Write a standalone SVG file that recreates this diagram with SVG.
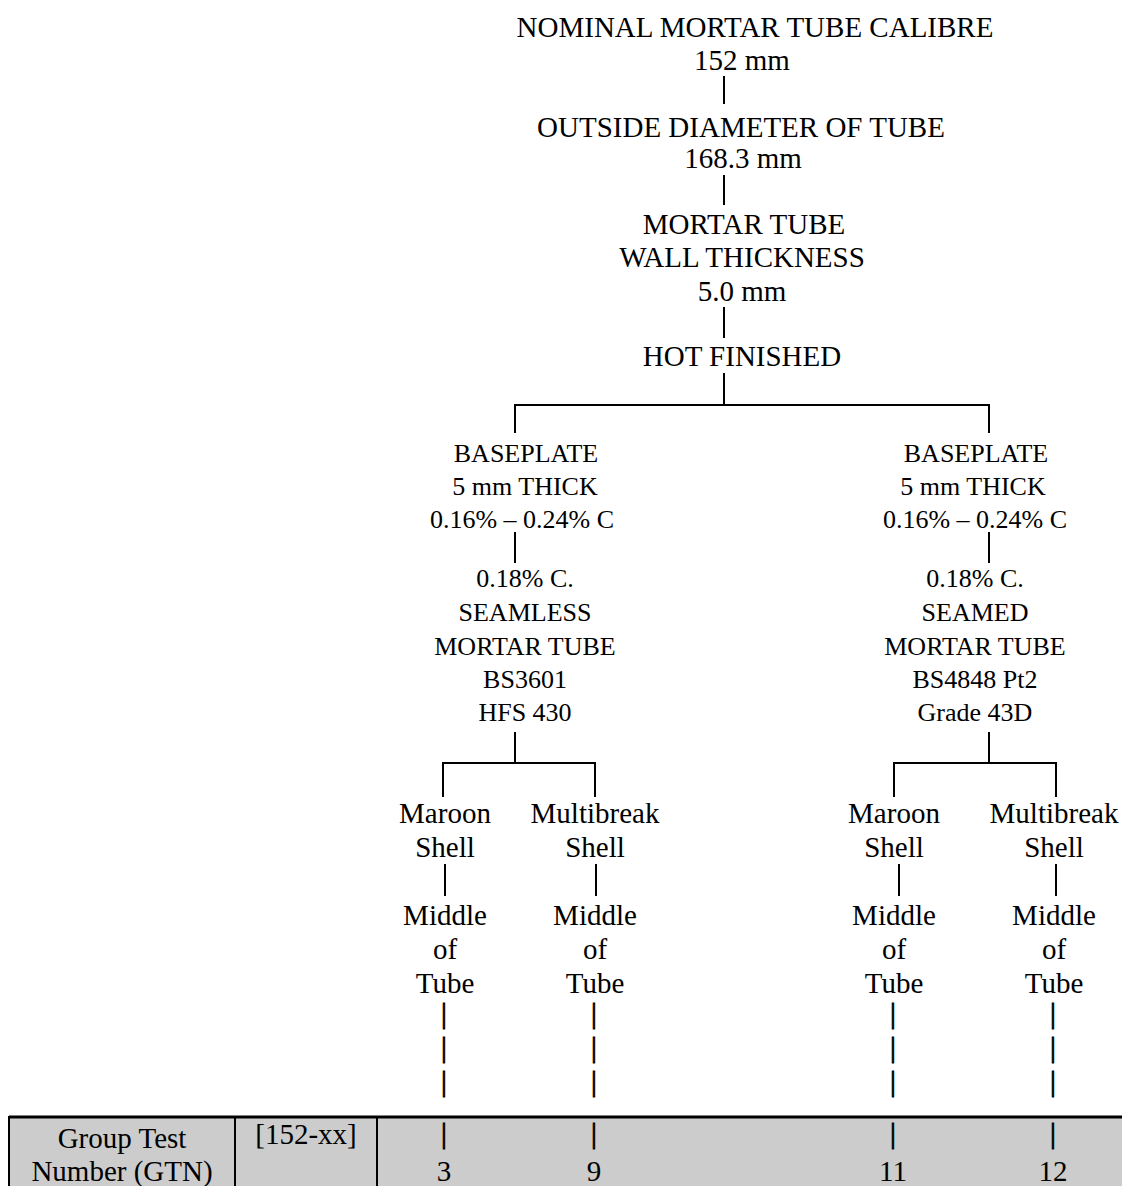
<svg xmlns="http://www.w3.org/2000/svg" width="1122" height="1186" viewBox="0 0 1122 1186">
<style>
text{font-family:"Liberation Serif","Times New Roman",serif;fill:#000;text-anchor:middle}
.a{font-size:29px}
.b{font-size:26px}
.p{stroke:#000;stroke-width:0.9}
.c line{stroke:#000;stroke-width:2;fill:none}
</style>
<rect x="0" y="0" width="1122" height="1186" fill="#fff"/>
<g id="table">
<rect x="9" y="1117" width="1113" height="69" fill="#cccccc"/>
<line x1="9" y1="1117" x2="1122" y2="1117" stroke="#000" stroke-width="3"/>
<line x1="9" y1="1116" x2="9" y2="1186" stroke="#000" stroke-width="2"/>
<line x1="235" y1="1117" x2="235" y2="1186" stroke="#000" stroke-width="2"/>
<line x1="377" y1="1117" x2="377" y2="1186" stroke="#000" stroke-width="2"/>
<text class="a" x="122" y="1148">Group Test</text>
<text class="a" x="122" y="1181">Number (GTN)</text>
<text class="a" x="306" y="1144">[152-xx]</text>
<text class="a p" x="444" y="1143">|</text>
<text class="a p" x="594" y="1143">|</text>
<text class="a p" x="893" y="1143">|</text>
<text class="a p" x="1053" y="1143">|</text>
<text class="a" x="444" y="1181">3</text>
<text class="a" x="594" y="1181">9</text>
<text class="a" x="893" y="1181">11</text>
<text class="a" x="1053" y="1181">12</text>
</g>
<g id="connectors" class="c">
<line x1="724" y1="76" x2="724" y2="104"/>
<line x1="724" y1="175" x2="724" y2="205"/>
<line x1="724" y1="307" x2="724" y2="338"/>
<line x1="724" y1="373" x2="724" y2="405"/>
<line x1="514" y1="405" x2="990" y2="405"/>
<line x1="515" y1="404" x2="515" y2="433"/>
<line x1="989" y1="404" x2="989" y2="433"/>
<line x1="515" y1="532" x2="515" y2="563"/>
<line x1="989" y1="532" x2="989" y2="563"/>
<line x1="515" y1="732" x2="515" y2="763"/>
<line x1="442" y1="763" x2="596" y2="763"/>
<line x1="443" y1="762" x2="443" y2="797"/>
<line x1="595" y1="762" x2="595" y2="797"/>
<line x1="989" y1="732" x2="989" y2="763"/>
<line x1="893" y1="763" x2="1057" y2="763"/>
<line x1="894" y1="762" x2="894" y2="797"/>
<line x1="1056" y1="762" x2="1056" y2="797"/>
<line x1="445" y1="864" x2="445" y2="896"/>
<line x1="596" y1="864" x2="596" y2="896"/>
<line x1="899" y1="864" x2="899" y2="896"/>
<line x1="1056" y1="864" x2="1056" y2="896"/>
</g>
<g id="n-calibre">
<text class="a" x="755" y="37">NOMINAL MORTAR TUBE CALIBRE</text>
<text class="a" x="742" y="70">152 mm</text>
</g>
<g id="n-diameter">
<text class="a" x="741" y="137">OUTSIDE DIAMETER OF TUBE</text>
<text class="a" x="743" y="168">168.3 mm</text>
</g>
<g id="n-wall">
<text class="a" x="744" y="234">MORTAR TUBE</text>
<text class="a" x="742" y="267">WALL THICKNESS</text>
<text class="a" x="742" y="301">5.0 mm</text>
</g>
<g id="n-hot">
<text class="a" x="742" y="366">HOT FINISHED</text>
</g>
<g id="n-base-left" class="b">
<text x="526" y="462">BASEPLATE</text>
<text x="525" y="495">5 mm THICK</text>
<text x="522" y="528">0.16% – 0.24% C</text>
</g>
<g id="n-base-right" class="b">
<text x="976" y="462">BASEPLATE</text>
<text x="973" y="495">5 mm THICK</text>
<text x="975" y="528">0.16% – 0.24% C</text>
</g>
<g id="n-seamless" class="b">
<text x="525" y="587">0.18% C.</text>
<text x="525" y="621">SEAMLESS</text>
<text x="525" y="655">MORTAR TUBE</text>
<text x="525" y="688">BS3601</text>
<text x="525" y="721">HFS 430</text>
</g>
<g id="n-seamed" class="b">
<text x="975" y="587">0.18% C.</text>
<text x="975" y="621">SEAMED</text>
<text x="975" y="655">MORTAR TUBE</text>
<text x="975" y="688">BS4848 Pt2</text>
<text x="975" y="721">Grade 43D</text>
</g>
<g id="n-maroon-left" class="a">
<text x="445" y="823">Maroon</text>
<text x="445" y="857">Shell</text>
</g>
<g id="n-multi-left" class="a">
<text x="595" y="823">Multibreak</text>
<text x="595" y="857">Shell</text>
</g>
<g id="n-maroon-right" class="a">
<text x="894" y="823">Maroon</text>
<text x="894" y="857">Shell</text>
</g>
<g id="n-multi-right" class="a">
<text x="1054" y="823">Multibreak</text>
<text x="1054" y="857">Shell</text>
</g>
<g id="n-middle-1" class="a">
<text x="445" y="925">Middle</text>
<text x="445" y="959">of</text>
<text x="445" y="993">Tube</text>
<text class="p" x="444" y="1023">|</text>
<text class="p" x="444" y="1057">|</text>
<text class="p" x="444" y="1091">|</text>
</g>
<g id="n-middle-2" class="a">
<text x="595" y="925">Middle</text>
<text x="595" y="959">of</text>
<text x="595" y="993">Tube</text>
<text class="p" x="594" y="1023">|</text>
<text class="p" x="594" y="1057">|</text>
<text class="p" x="594" y="1091">|</text>
</g>
<g id="n-middle-3" class="a">
<text x="894" y="925">Middle</text>
<text x="894" y="959">of</text>
<text x="894" y="993">Tube</text>
<text class="p" x="893" y="1023">|</text>
<text class="p" x="893" y="1057">|</text>
<text class="p" x="893" y="1091">|</text>
</g>
<g id="n-middle-4" class="a">
<text x="1054" y="925">Middle</text>
<text x="1054" y="959">of</text>
<text x="1054" y="993">Tube</text>
<text class="p" x="1053" y="1023">|</text>
<text class="p" x="1053" y="1057">|</text>
<text class="p" x="1053" y="1091">|</text>
</g>
</svg>
